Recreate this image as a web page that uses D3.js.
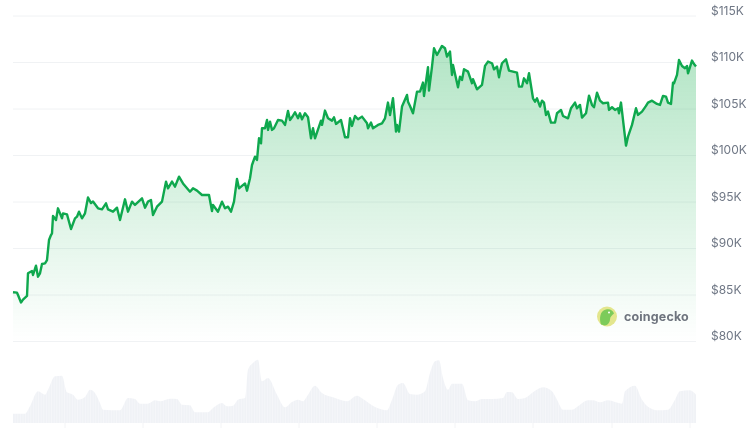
<!DOCTYPE html>
<html><head><meta charset="utf-8">
<script src="https://cdn.jsdelivr.net/npm/d3@7/dist/d3.min.js"></script>
<style>html,body{margin:0;padding:0;background:#fff;overflow:hidden}svg{display:block;filter:blur(0.35px)}</style>
</head><body><div id="chart"></div>
<script>
// Price series: sample index and price in $K
const priceIndex = [0,4,5,8,10,14,15,19,20,23,25,27,29,32,34,36,38,39,40,43,45,49,50,54,58,62,64,66,69,72,75,78,80,85,89,93,95,100,104,107,112,115,119,122,129,132,135,138,140,144,149,153,155,159,162,166,170,177,180,184,189,196,199,200,205,209,212,215,218,221,224,226,232,234,
237,239,242,244,246,248,249,252,254,255,257,259,261,265,269,272,275,277,279,282,285,287,289,292,295,298,300,302,308,309,312,315,319,321,323,328,332,335,337,339,342,345,349,354,355,358,360,365,369,372,375,377,380,383,384,386,389,394,395,397,400,404,407,410,411,415,416,419,421,424,429,432,434,437,439,440,445,447,449,451,455,459,460,464,469,472,475,479,481,484,486,
487,489,493,496,504,506,509,511,514,516,520,522,524,527,529,531,533,535,538,542,544,548,550,555,558,562,564,567,569,573,576,579,581,584,587,590,595,596,599,602,605,606,608,610,613,615,619,623,625,629,633,635,639,644,647,650,653,655,658,660,661,664,666,669,672,674,675,679,681,683];
const priceK = [85.29,85.25,85.0,84.2,84.5,84.9,87.33,87.58,87.15,88.15,86.97,87.33,88.33,88.4,88.76,90.91,91.45,91.63,93.5,93.06,94.32,93.24,93.78,93.67,92.1,93.24,93.42,93.96,93.24,93.78,95.49,94.88,95.06,94.32,94.21,94.86,94.21,93.96,94.39,93.06,95.29,93.96,95.04,94.68,95.39,94.39,95.04,95.21,93.6,94.5,95.04,97.19,96.47,97.19,96.65,97.72,97.0,96.11,96.47,96.22,95.75,95.75,94.03,94.68,93.96,95.04,94.32,94.5,93.96,95.04,97.47,96.47,97.0,96.22,
97.55,98.98,99.88,99.52,101.85,101.31,102.93,102.93,103.82,102.75,103.64,102.75,102.93,103.82,103.75,103.29,104.79,103.82,104.11,104.65,104.0,104.54,103.89,104.54,104.11,101.85,102.93,101.85,103.75,103.29,104.83,104.0,103.75,104.11,103.39,103.82,101.96,101.96,104.0,103.18,104.25,103.89,104.18,103.46,102.93,103.54,102.93,103.29,103.46,104.0,105.69,104.36,106.15,102.57,103.29,102.57,105.26,106.51,105.79,105.33,104.54,106.87,106.87,107.84,106.4,109.49,106.98,109.56,111.53,110.81,111.78,111.53,110.63,111.17,108.66,109.74,107.34,108.48,108.12,109.27,109.02,107.77,108.2,107.12,107.59,109.63,110.1,109.92,109.27,109.56,108.41,
109.02,109.92,110.35,109.13,108.91,107.41,107.41,108.3,107.77,108.84,106.15,105.79,106.15,105.26,105.9,105.69,104.36,104.72,103.54,103.54,104.54,104.9,104.25,104.0,105.08,105.69,105.08,105.44,104.07,104.54,106.44,105.44,105.19,106.76,105.9,105.62,105.69,104.9,105.19,104.9,105.08,104.54,105.69,103.82,101.06,102.03,103.29,105.08,104.36,104.72,105.33,105.69,105.9,105.54,105.44,106.4,106.33,105.69,105.54,107.84,107.77,108.66,110.27,109.63,109.38,109.63,108.84,110.21,109.84,109.56];
// Volume series
const volumeIndex = [0,12,17,25,32,35,42,49,54,60,65,72,77,82,87,90,107,115,122,127,135,142,147,157,164,169,177,182,195,200,209,214,220,225,232,235,240,245,249,255,264,272,279,285,290,295,302,309,320,334,344,350,362,374,379,385,390,397,404,412,417,422,426,430,435,439,449,455,462,469,479,490,494,499,505,512,520,530,539,544,550,559,567,575,580,587,595,609,612,622,629,637,645,655,662,667,677,683];
const volumeValues = [9.3,9.3,16.7,31.7,28.3,33.3,46.7,47.3,30.7,28.3,23.3,26,33.3,30,20,13.3,12.7,25,24,19.3,19.3,22.7,21.7,24.3,24,18.3,17.7,10.7,10.7,15,20,16.7,17.3,23.3,25,53.3,60,63.3,41.7,45,28.3,15.7,21,23.3,21.7,28.3,37.3,30,25.7,21.7,27.3,24,16,12.7,23.3,38.3,40,29,28.3,31.7,50,61.7,62.7,45,33.3,39.3,39.3,22.7,21.7,24,24,25,31,30.7,24,25,30.7,35.7,31.7,23.3,13.3,13.3,18.3,22.7,22.7,20.7,22.7,19.3,31.7,37.3,23.3,15,12.7,13.3,23.3,31.7,32.7,28.3];
const yTicks = [80,85,90,95,100,105,110,115];
const timeTicks = [52,130,208,286,364,442,520,599,677];

const W=750,H=430;
const x=d3.scaleLinear().domain([0,683]).range([13,696]);
const y=d3.scaleLinear().domain([80,115]).range([341.5,16]);
const yV=d3.scaleLinear().domain([0,100]).range([423,323]);
const svg=d3.select("#chart").append("svg").attr("width",W).attr("height",H);
const defs=svg.append("defs");
const grad=defs.append("linearGradient").attr("id","g").attr("x1",0).attr("x2",0).attr("y1",0).attr("y2",1);
grad.append("stop").attr("offset","0%").attr("stop-color","#00a83e").attr("stop-opacity",.30);
grad.append("stop").attr("offset","100%").attr("stop-color","#00a83e").attr("stop-opacity",0);
const pat=defs.append("pattern").attr("id","bars").attr("patternUnits","userSpaceOnUse").attr("width",2.6).attr("height",10);
pat.append("rect").attr("width",2.6).attr("height",10).attr("fill","#f0f2f6");
pat.append("rect").attr("x",2).attr("width",0.6).attr("height",10).attr("fill","#f8f9fb");
const pts=priceIndex.map((d,i)=>[d,priceK[i]]);
const vol=volumeIndex.map((d,i)=>[d,volumeValues[i]]);
// volume
svg.append("path").attr("d",d3.area().curve(d3.curveMonotoneX).x(d=>x(d[0])).y0(yV(0)).y1(d=>yV(d[1]))(vol)).attr("fill","url(#bars)");
svg.append("g").selectAll("line").data(timeTicks).join("line")
 .attr("x1",d=>x(d)).attr("x2",d=>x(d)).attr("y1",423).attr("y2",428).attr("stroke","#f3f4f6");
// grid
svg.append("g").selectAll("line").data(yTicks).join("line")
 .attr("x1",13).attr("x2",696).attr("y1",d=>y(d)).attr("y2",d=>y(d)).attr("stroke","#f0f2f4");
// area + line
svg.append("path").attr("d",d3.area().x(d=>x(d[0])).y0(y(80)).y1(d=>y(d[1]))(pts)).attr("fill","url(#g)");
svg.append("path").attr("d",d3.line().x(d=>x(d[0])).y(d=>y(d[1]))(pts)).attr("fill","none").attr("stroke","#0fa84e").attr("stroke-width",2.4).attr("stroke-linejoin","round");
// labels
svg.append("g").selectAll("text").data(yTicks).join("text")
 .attr("x",711).attr("y",d=>y(d)-1.5).text(d=>`$${d}K`)
 .attr("font-family","Inter, sans-serif").attr("font-size",12).attr("fill","#6f7785");
// logo
const logo=svg.append("g").attr("transform","translate(607,316.5)");
logo.append("circle").attr("r",10).attr("fill","#e3e68d");
logo.append("path").attr("d","M-6,8 C-8,2 -7,-6 -1,-7 C3,-8 6,-6 7,-3 C5,-1 3,0 3,3 C3,6 0,9 -2,9 Z").attr("fill","#7ccb5a");
logo.append("circle").attr("cx",2).attr("cy",-4).attr("r",1).attr("fill","#fff");
svg.append("text").attr("x",624).attr("y",320.5).text("coingecko")
 .attr("font-family","Inter, sans-serif").attr("font-weight",700).attr("font-size",12.5).attr("letter-spacing",.15).attr("fill","#6e747e");
</script></body></html>
